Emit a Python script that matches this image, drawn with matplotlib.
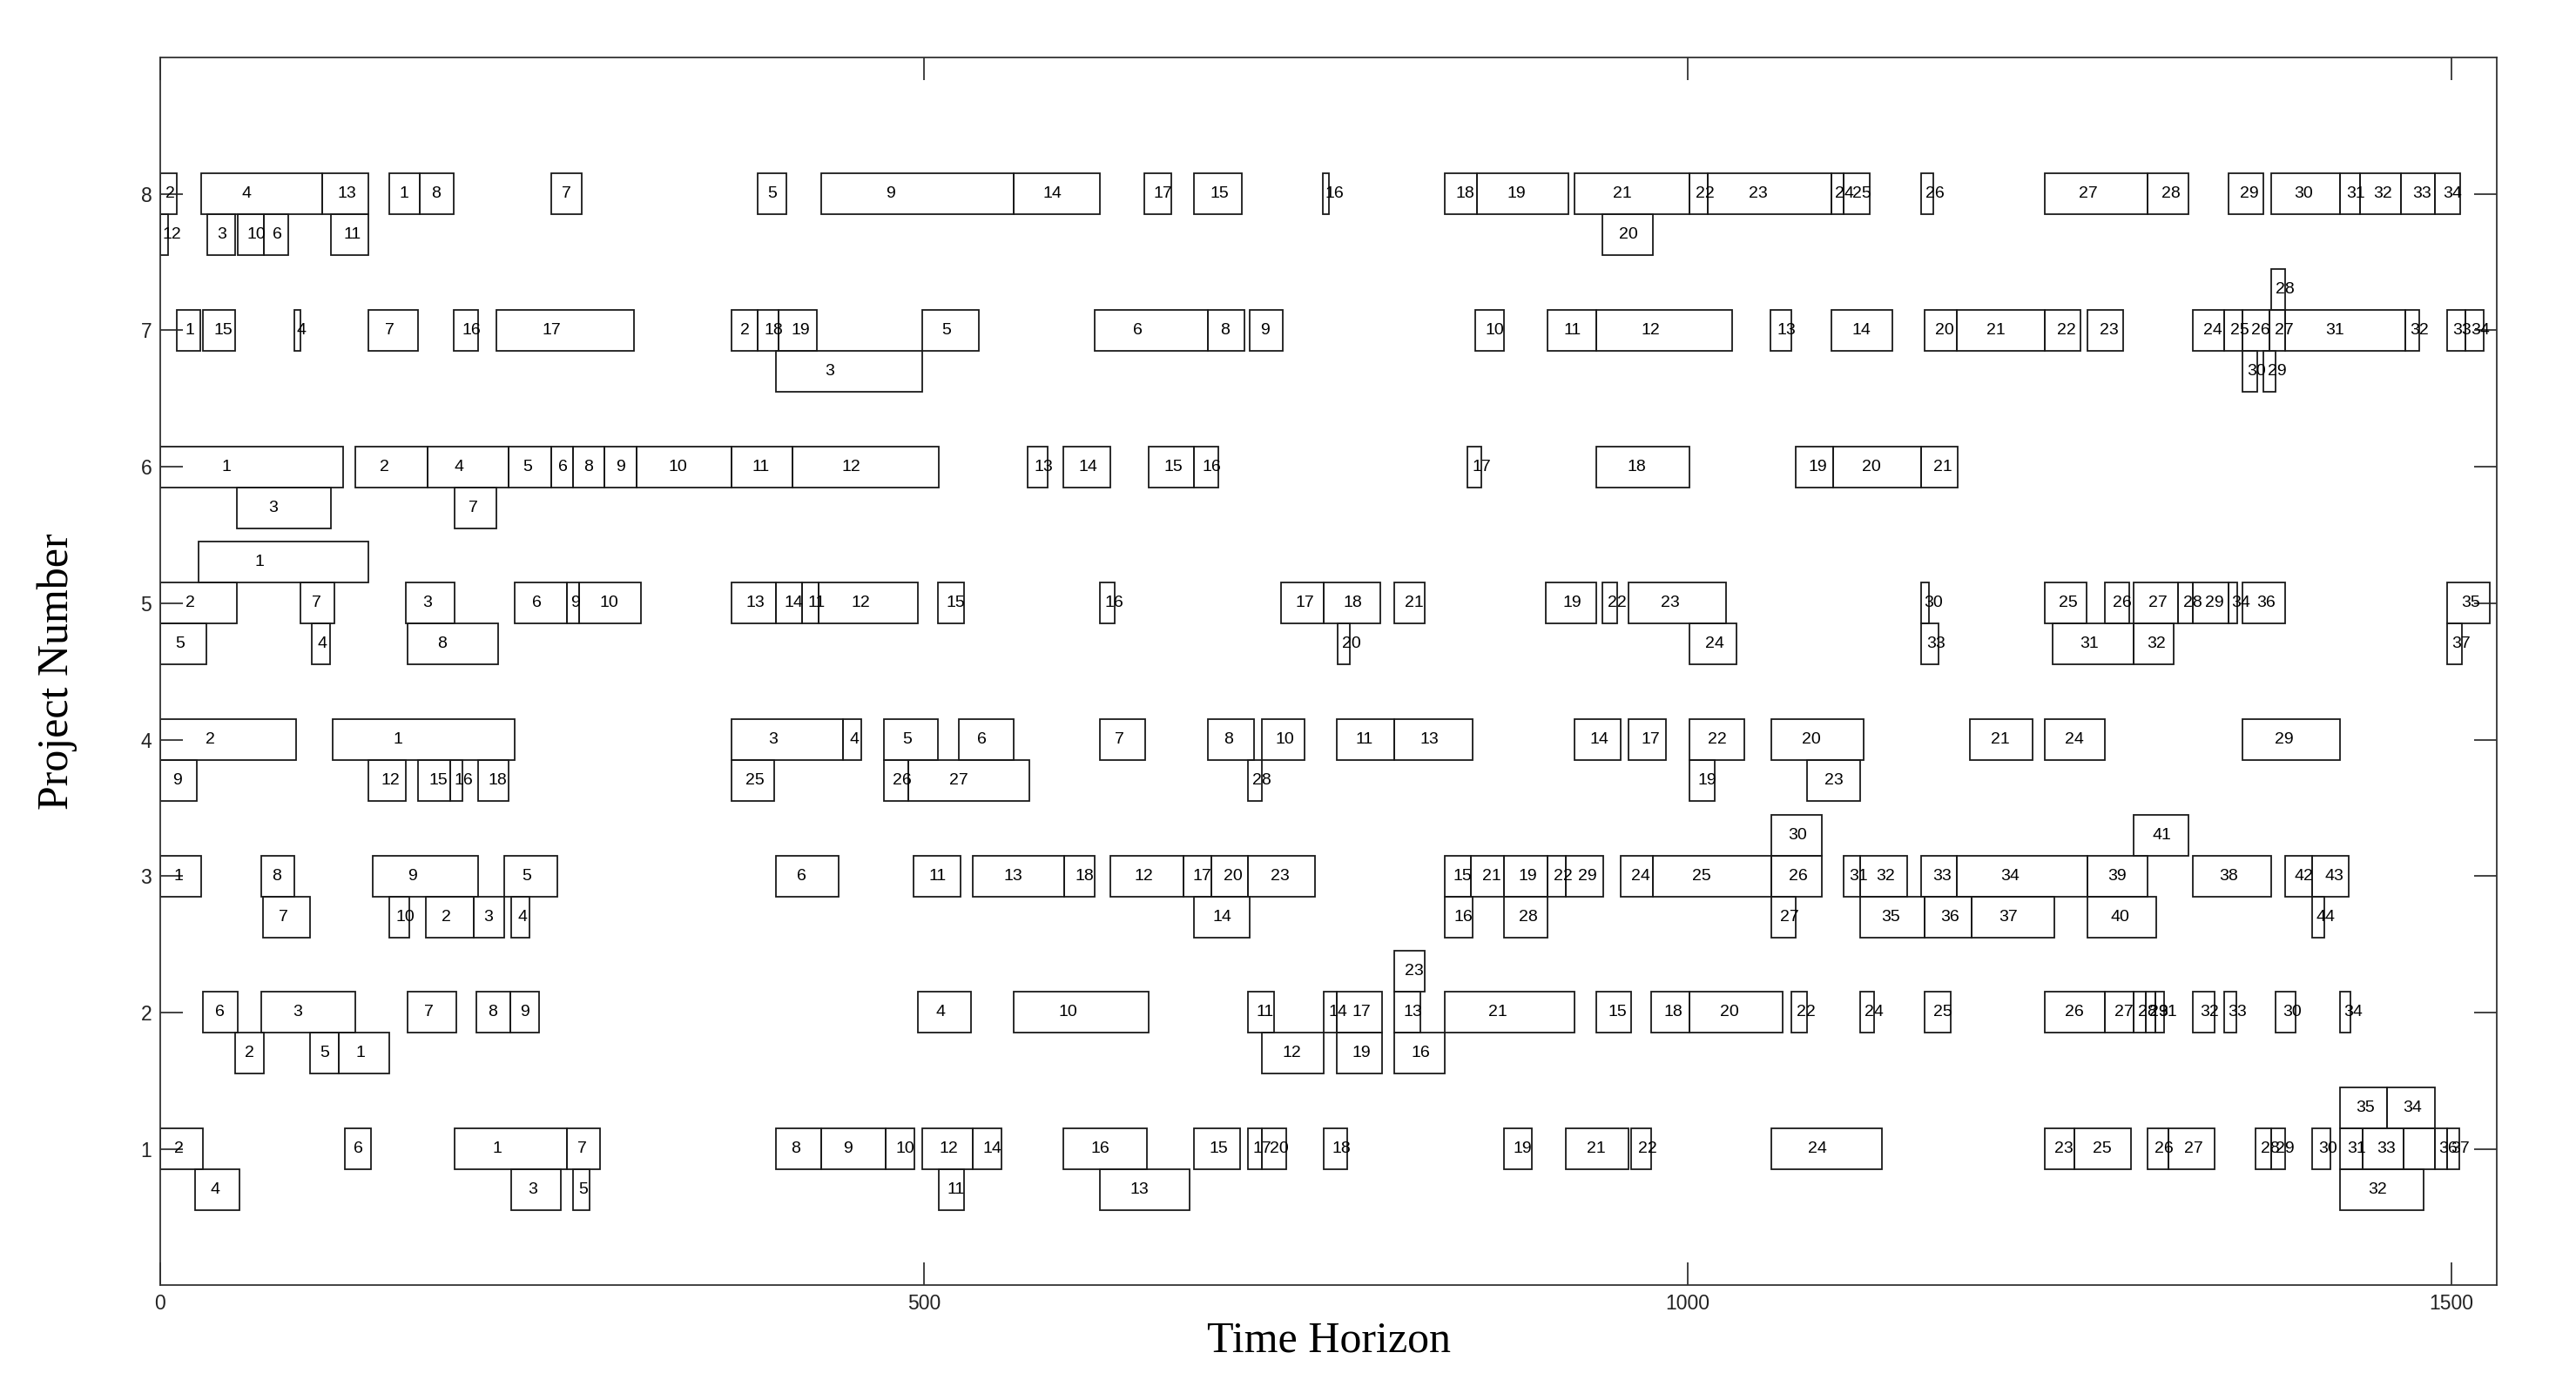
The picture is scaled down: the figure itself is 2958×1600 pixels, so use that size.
import matplotlib
matplotlib.use("Agg")
import matplotlib.pyplot as plt

# ---------------- data (task label, start, finish, lane: 0 main, 1 above, -1 below) -------------
p8_task   = ["2","4","13","1","8","7","5","9","14","17","15","16","18","19","21","22","23","24","25","26","27","28","29","30","31","32","33","34",
             "12","3","10","6","11","20"]
p8_start  = [0,27,106,150,170,256,391,433,559,644,677,761,841,862,926,1001,1013,1094,1102,1153,1234,1301,1354,1382,1427,1440,1467,1489,
             0,31,51,68,112,944]
p8_finish = [11,106,136,170,192,276,410,559,615,662,708,765,862,922,1001,1013,1094,1102,1119,1161,1301,1328,1377,1427,1440,1467,1489,1506,
             5,49,68,84,136,977]
p8_lane   = [0]*28 + [-1]*6

p7_task   = ["1","15","4","7","16","17","2","18","19","5","6","8","9","10","11","12","13","14","20","21","22","23","24","25","26","27","31","32","33","34",
             "28","3","30","29"]
p7_start  = [11,28,88,136,192,220,374,391,405,499,612,686,713,861,908,940,1054,1094,1155,1176,1234,1262,1331,1351,1363,1381,1391,1470,1497,1509,
             1382,403,1363,1377]
p7_finish = [26,49,92,169,208,310,391,405,430,536,686,710,735,880,940,1029,1068,1134,1176,1234,1257,1285,1351,1363,1381,1391,1470,1479,1509,1521,
             1391,499,1373,1385]
p7_lane   = [0]*30 + [1] + [-1]*3

p6_task   = ["1","2","4","5","6","8","9","10","11","12","13","14","15","16","17","18","19","20","21","3","7"]
p6_start  = [0,128,175,228,256,270,291,312,374,414,568,591,647,677,856,940,1071,1095,1153,50,193]
p6_finish = [120,175,228,256,270,291,312,374,414,510,581,622,677,693,865,1001,1095,1153,1177,112,220]
p6_lane   = [0]*19 + [-1]*2

p5_task   = ["1",
             "2","7","3","6","9","10","13","14","11","12","15","16","17","18","21","19","22","23","30","25","26","27","28","29","34","36","35",
             "5","4","8","20","24","33","31","32","37"]
p5_start  = [25,
             0,92,161,232,266,274,374,403,420,431,509,615,734,762,808,907,944,961,1153,1234,1273,1292,1321,1331,1354,1363,1497,
             0,99,162,771,1001,1153,1239,1292,1497]
p5_finish = [136,
             50,114,193,266,274,315,403,420,431,496,526,625,762,799,828,940,954,1025,1158,1261,1289,1321,1331,1354,1360,1391,1525,
             30,111,221,779,1032,1164,1292,1318,1507]
p5_lane   = [1] + [0]*27 + [-1]*9

p4_task   = ["2","1","3","4","5","6","7","8","10","11","13","14","17","22","20","21","24","29",
             "9","12","15","16","18","25","26","27","28","19","23"]
p4_start  = [0,113,374,447,474,523,615,686,721,770,808,926,961,1001,1055,1185,1234,1363,
             0,136,169,190,208,374,474,490,712,1001,1078]
p4_finish = [89,232,447,459,509,559,645,716,749,808,859,956,986,1037,1115,1226,1273,1427,
             24,161,190,198,228,402,490,569,721,1018,1113]
p4_lane   = [0]*18 + [-1]*11

p3_task   = ["30","41",
             "1","8","9","5","6","11","13","18","12","17","20","23","15","21","19","22","29","24","25","26","31","32","33","34","39","38","42","43",
             "7","10","2","3","4","14","16","28","27","35","36","37","40","44"]
p3_start  = [1055,1292,
             0,66,139,225,403,493,532,592,622,670,688,712,841,858,880,908,920,956,977,1055,1102,1113,1153,1176,1262,1331,1391,1409,
             67,150,174,205,230,677,841,880,1055,1113,1155,1186,1262,1409]
p3_finish = [1088,1328,
             27,88,208,260,444,524,592,612,670,688,712,756,858,880,908,920,945,977,1055,1088,1113,1144,1176,1262,1301,1382,1409,1433,
             98,163,205,225,242,713,859,908,1071,1155,1186,1240,1307,1417]
p3_lane   = [1]*2 + [0]*28 + [-1]*14

p2_task   = ["23",
             "6","3","7","8","9","4","10","11","14","17","13","21","15","18","20","22","24","25","26","27","28","29","31","32","33","30","34",
             "2","5","1","12","19","16"]
p2_start  = [808,
             28,66,162,207,229,496,559,712,762,770,808,841,940,976,1001,1068,1113,1155,1234,1273,1292,1300,1306,1331,1351,1385,1427,
             49,98,117,721,770,808]
p2_finish = [828,
             51,128,194,229,248,531,647,729,770,800,825,926,963,1001,1062,1078,1122,1172,1273,1292,1300,1306,1312,1345,1359,1398,1434,
             68,117,150,762,800,841]
p2_lane   = [1] + [0]*27 + [-1]*6

p1_task   = ["35","34",
             "2","6","1","7","8","9","10","12","14","16","15","17","20","18","19","21","22","24","23","25","26","27","28","29","30","31","33","","36","37",
             "4","3","5","11","13","32"]
p1_start  = [1427,1458,
             0,121,193,266,403,433,475,499,532,591,677,712,721,762,880,920,963,1055,1234,1253,1301,1315,1372,1382,1409,1427,1442,1469,1489,1497,
             23,230,270,510,615,1427]
p1_finish = [1458,1489,
             28,138,266,288,433,475,494,532,551,646,707,721,737,777,898,961,976,1127,1253,1290,1315,1345,1382,1391,1421,1442,1469,1489,1497,1505,
             52,262,281,526,674,1482]
p1_lane   = [1]*2 + [0]*30 + [-1]*6

projects = [1, 2, 3, 4, 5, 6, 7, 8]
x_ticks = [0, 500, 1000, 1500]
x_label = "Time Horizon"
y_label = "Project Number"

project_data = {
    1: (p1_task, p1_start, p1_finish, p1_lane),
    2: (p2_task, p2_start, p2_finish, p2_lane),
    3: (p3_task, p3_start, p3_finish, p3_lane),
    4: (p4_task, p4_start, p4_finish, p4_lane),
    5: (p5_task, p5_start, p5_finish, p5_lane),
    6: (p6_task, p6_start, p6_finish, p6_lane),
    7: (p7_task, p7_start, p7_finish, p7_lane),
    8: (p8_task, p8_start, p8_finish, p8_lane),
}

# ---------------- figure ----------------
fig = plt.figure(figsize=(29.58, 16), dpi=100)
ax = fig.add_axes([0.0622, 0.0773, 0.9072, 0.8814])

lane_offset = 0.3
box_h = 0.3
edge = "#1a1a1a"
for p in projects:
    tasks, starts, finishes, lanes = project_data[p]
    for t, s, f, ln in zip(tasks, starts, finishes, lanes):
        y = p + ln * lane_offset
        d = f - s
        ax.barh(y, d, left=s, height=box_h, fill=False, edgecolor=edge, linewidth=1.3)
        if t:
            ax.text(s + d / 3.0, y, t, ha="left", va="center", fontsize=14,
                    family="Liberation Sans", color="black")

ax.set_xlim(0, 1530)
ax.set_ylim(0, 9)
ax.set_xticks(x_ticks)
ax.set_xticklabels([str(v) for v in x_ticks])
ax.set_yticks(projects)
ax.set_yticklabels([str(v) for v in projects])
ax.tick_params(direction="in", length=19, width=1.2, top=True, right=True,
               labelsize=16.5, pad=7, colors="#222222")
for lbl in ax.get_xticklabels() + ax.get_yticklabels():
    lbl.set_family("Liberation Sans")
for sp in ax.spines.values():
    sp.set_linewidth(1.3)
    sp.set_color("#333333")

ax.set_xlabel(x_label, fontsize=36, family="Liberation Serif", labelpad=6)
ax.set_ylabel(y_label, fontsize=36, family="Liberation Serif", labelpad=52)

fig.savefig("out.png", dpi=100, facecolor="white")
